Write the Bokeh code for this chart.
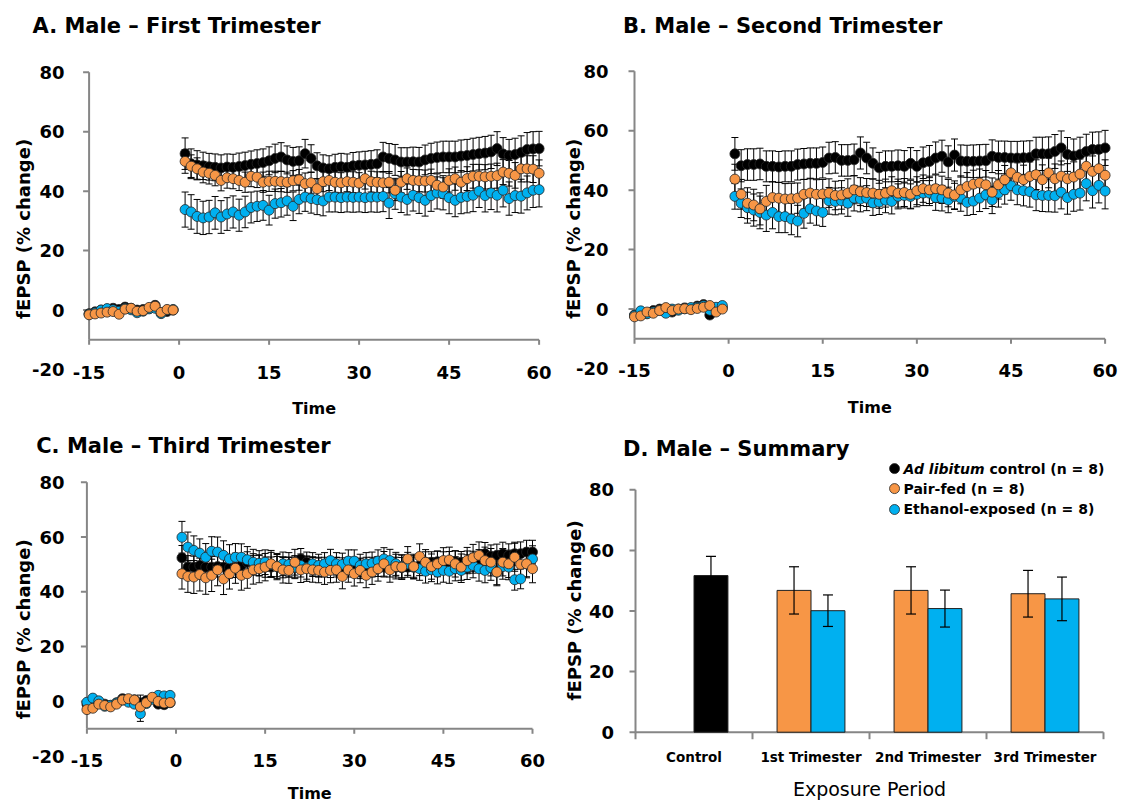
import math
from bokeh.plotting import figure
from bokeh.models import Range1d, Label, ColumnDataSource
from bokeh.layouts import column, row
from bokeh.embed import file_html
from bokeh.resources import INLINE
from bokeh.core.properties import value

# ---------------- data ----------------
time_pre = list(range(-15, 0))
time_post = list(range(1, 61))
x_ticks = [-15, 0, 15, 30, 45, 60]
y_ticks = [0, 20, 40, 60, 80]
y_tick_labels = [-20, 0, 20, 40, 60, 80]

# Panel A - First trimester
A_ctrl_pre = [-1.2, -0.6, 0.0, 0.3, 0.6, 0.2, 1.0, 0.6, 0.0, 0.2, 0.5, 1.6, -1.0, -0.5, 0.0]
A_pf_pre = [-1.6, -1.3, -1.0, -0.7, -0.5, -1.4, 0.3, 0.6, -0.4, -0.2, 0.9, 1.3, -0.8, 0.2, 0.0]
A_eth_pre = [-1.4, -0.9, 0.0, 0.5, 0.1, -0.4, 0.5, 0.1, -0.9, -0.4, 0.4, 0.6, -1.2, 0.0, 0.2]
A_ctrl_post = [52.6, 49.2, 48.8, 48.5, 48.2, 48.0, 47.8, 48.1, 48.0, 48.3,
               48.6, 49.0, 49.3, 49.6, 50.2, 51.0, 51.5, 50.5, 50.0, 50.2,
               52.6, 51.0, 48.5, 47.8, 47.5, 48.0, 48.2, 48.0, 48.5, 48.7,
               48.8, 49.0, 49.2, 51.5, 51.0, 50.5, 49.8, 49.8, 49.9, 49.8,
               50.5, 51.0, 51.3, 51.5, 51.5, 51.5, 51.8, 52.0, 52.3, 52.6,
               52.8, 53.2, 54.3, 52.5, 52.0, 52.3, 53.0, 54.0, 54.2, 54.3]
A_pf_post = [50.0, 48.4, 47.5, 46.4, 46.0, 45.3, 43.6, 44.5, 44.2, 43.6,
             43.0, 45.0, 44.7, 43.0, 43.3, 43.3, 43.2, 43.0, 43.5, 43.8,
             42.5, 42.8, 40.8, 43.2, 43.6, 43.0, 42.8, 43.2, 43.0, 42.7,
             44.2, 43.2, 43.0, 42.8, 43.0, 40.3, 43.0, 44.2, 43.6, 43.5,
             43.4, 43.6, 42.0, 41.4, 43.6, 44.2, 43.0, 44.2, 45.0, 45.0,
             44.8, 45.0, 45.2, 46.4, 46.0, 45.3, 47.5, 47.5, 47.4, 46.0]
A_eth_post = [33.8, 33.0, 31.5, 31.0, 31.3, 32.7, 31.3, 32.3, 33.0, 31.9,
              33.0, 34.5, 34.9, 35.2, 33.6, 35.8, 36.1, 36.7, 34.9, 37.2,
              38.0, 37.5, 37.1, 36.7, 38.0, 38.0, 37.8, 38.0, 37.9, 38.0,
              37.8, 38.0, 38.0, 38.2, 36.0, 39.1, 38.0, 37.2, 38.6, 37.8,
              36.9, 38.5, 39.4, 39.1, 37.8, 36.9, 37.9, 38.2, 38.6, 40.0,
              38.5, 39.4, 38.6, 40.3, 37.5, 38.5, 38.3, 39.4, 40.3, 40.5]
A_ctrl_sem = [5.3, 5.0, 4.8, 4.6, 4.5, 4.5, 4.4, 4.4, 4.4, 4.5,
              4.5, 4.5, 4.6, 4.6, 4.7, 4.8, 4.8, 4.7, 4.7, 4.7,
              4.8, 4.6, 4.4, 4.4, 4.4, 4.4, 4.5, 4.5, 4.5, 4.5,
              4.6, 4.6, 4.7, 4.9, 5.0, 5.2, 4.8, 4.8, 4.9, 4.9,
              5.0, 5.1, 5.2, 5.3, 5.3, 5.3, 5.4, 5.4, 5.5, 5.5,
              5.6, 5.6, 5.7, 5.5, 5.4, 5.5, 5.6, 5.7, 5.8, 5.8]
A_pf_sem = [4.0, 3.8, 3.7, 3.6, 3.6, 3.5, 3.5, 3.5, 3.4, 3.4,
            3.4, 3.5, 3.5, 3.4, 3.4, 3.4, 3.4, 3.4, 3.4, 3.5,
            3.6, 3.5, 3.4, 3.4, 3.4, 3.4, 3.4, 3.4, 3.5, 3.5,
            3.5, 3.5, 3.5, 3.6, 3.6, 3.5, 3.6, 3.6, 3.7, 3.7,
            3.7, 3.8, 3.8, 3.8, 3.9, 3.9, 3.9, 4.0, 4.0, 4.0,
            4.1, 4.1, 4.2, 4.2, 4.3, 4.3, 4.4, 4.4, 4.5, 4.5]
A_eth_sem = [5.9, 5.8, 5.7, 5.6, 5.6, 5.5, 5.5, 5.5, 5.4, 5.4,
             5.3, 5.2, 5.1, 5.0, 5.0, 4.9, 4.8, 4.8, 4.8, 4.8,
             4.8, 4.9, 5.0, 5.0, 5.0, 5.0, 5.0, 5.0, 5.0, 5.0,
             5.0, 5.0, 5.1, 5.1, 5.2, 5.2, 5.2, 5.2, 5.3, 5.3,
             5.3, 5.3, 5.4, 5.4, 5.4, 5.5, 5.5, 5.5, 5.5, 5.5,
             5.5, 5.6, 5.6, 5.6, 5.6, 5.7, 5.7, 5.7, 5.8, 5.8]
A_pre_sem = [0.8, 0.8, 0.7, 0.7, 0.7, 0.8, 0.7, 0.7, 0.8, 0.7, 0.7, 0.8, 0.9, 0.7, 0.6]

# Panel B - Second trimester
B_ctrl_pre = [-2.0, -1.0, -1.5, -0.5, 0.0, -0.5, -1.0, 0.0, 0.4, 0.3, 1.0, 1.5, -2.0, -0.5, 0.5]
B_pf_pre = [-2.6, -2.3, -1.0, -1.4, -0.5, 0.5, -0.5, 0.0, 0.1, -0.2, 0.2, 0.6, 1.2, -1.0, 0.0]
B_eth_pre = [-2.2, -0.6, -1.6, -1.0, -0.4, -1.4, 0.0, -0.4, 0.1, 0.5, 0.6, 1.1, -0.4, 0.6, 1.2]
B_ctrl_post = [52.2, 48.2, 48.6, 48.6, 48.8, 48.0, 48.0, 47.8, 48.0, 48.0,
               48.6, 48.8, 49.0, 49.0, 49.3, 50.8, 51.0, 50.0, 50.0, 50.2,
               52.5, 50.8, 49.0, 47.5, 48.0, 48.0, 48.2, 48.0, 49.0, 48.0,
               49.2, 49.6, 50.8, 51.4, 49.5, 51.8, 49.8, 49.7, 49.7, 49.8,
               49.9, 51.4, 51.0, 51.0, 50.8, 50.8, 50.9, 51.0, 52.2, 52.2,
               52.2, 53.0, 54.2, 52.0, 51.5, 52.0, 53.0, 53.7, 53.7, 54.2]
B_pf_post = [43.7, 38.6, 35.6, 35.0, 33.7, 36.2, 37.5, 37.3, 37.0, 37.1,
             37.3, 38.6, 39.0, 38.6, 38.7, 39.0, 38.2, 38.4, 39.0, 40.1,
             39.5, 39.2, 39.0, 38.6, 39.0, 39.8, 39.0, 39.2, 38.6, 39.8,
             40.5, 40.1, 40.5, 40.1, 39.0, 38.4, 40.1, 41.2, 42.0, 42.4,
             41.8, 39.3, 41.8, 43.5, 45.8, 44.3, 43.5, 44.6, 45.2, 43.5,
             45.8, 43.8, 44.7, 43.8, 44.4, 45.4, 48.0, 46.3, 47.2, 45.0]
B_eth_post = [37.9, 35.6, 34.1, 33.3, 32.5, 31.6, 32.5, 31.1, 31.1, 30.3,
              29.6, 32.2, 33.7, 33.0, 32.5, 36.4, 36.2, 36.4, 35.6, 37.3,
              37.0, 37.3, 35.7, 36.0, 36.6, 36.2, 37.9, 38.2, 37.9, 38.6,
              39.0, 39.0, 37.5, 37.3, 36.7, 37.9, 37.3, 35.9, 36.3, 37.3,
              38.4, 36.7, 39.0, 40.1, 41.5, 40.1, 39.8, 39.5, 38.4, 38.2,
              38.2, 38.1, 39.3, 37.5, 38.6, 39.0, 42.2, 39.8, 41.6, 39.7]
B_ctrl_sem = [5.5, 5.4, 5.3, 5.3, 5.3, 5.2, 5.2, 5.2, 5.2, 5.2,
              5.2, 5.2, 5.2, 5.2, 5.2, 5.3, 5.3, 5.3, 5.3, 5.3,
              5.4, 5.3, 5.2, 5.2, 5.2, 5.2, 5.3, 5.3, 5.3, 5.3,
              5.3, 5.4, 5.4, 5.4, 5.4, 5.4, 5.4, 5.4, 5.5, 5.5,
              5.5, 5.5, 5.5, 5.5, 5.6, 5.6, 5.6, 5.6, 5.6, 5.6,
              5.7, 5.7, 5.7, 5.7, 5.7, 5.8, 5.8, 5.8, 5.9, 5.9]
B_pf_sem = [5.0, 5.0, 5.2, 5.3, 5.4, 5.4, 5.3, 5.3, 5.2, 5.2,
            5.1, 5.0, 5.0, 4.9, 4.9, 4.8, 4.8, 4.8, 4.8, 4.7,
            4.7, 4.7, 4.7, 4.7, 4.7, 4.7, 4.7, 4.7, 4.7, 4.7,
            4.6, 4.6, 4.6, 4.6, 4.6, 4.7, 4.7, 4.7, 4.7, 4.7,
            4.8, 4.8, 4.8, 4.8, 4.9, 4.9, 4.9, 4.9, 5.0, 5.0,
            5.0, 5.0, 5.1, 5.1, 5.1, 5.1, 5.2, 5.2, 5.2, 5.2]
B_eth_sem = [4.3, 4.8, 5.2, 5.4, 5.5, 5.5, 5.5, 5.4, 5.4, 5.3,
             5.3, 5.0, 4.8, 4.8, 4.7, 4.5, 4.5, 4.4, 4.4, 4.3,
             4.3, 4.2, 4.2, 4.2, 4.2, 4.2, 4.2, 4.2, 4.2, 4.2,
             4.2, 4.2, 4.3, 4.3, 4.3, 4.4, 4.4, 4.4, 4.5, 4.5,
             4.6, 4.6, 4.7, 4.8, 4.9, 5.0, 5.1, 5.2, 5.3, 5.4,
             5.5, 5.5, 5.6, 5.6, 5.7, 5.7, 5.8, 5.8, 5.9, 6.0]
B_pre_sem = [0.9, 0.8, 0.8, 0.8, 0.7, 0.8, 0.8, 0.7, 0.7, 0.7, 0.8, 0.8, 1.0, 0.8, 0.7]

# Panel C - Third trimester
C_ctrl_pre = [-1.0, 0.5, -0.5, -1.0, -1.5, -0.5, 1.0, 0.5, 0.6, -0.5, 0.3, 1.0, -1.0, -1.2, -0.5]
C_pf_pre = [-3.0, -2.5, -1.0, -1.5, -2.0, -1.0, 0.5, 1.0, 0.5, -2.0, -0.5, 1.5, 0.0, -0.6, -0.4]
C_eth_pre = [-0.3, 1.2, 0.2, -1.8, -1.4, -0.6, 0.5, -0.3, -1.0, -4.5, -0.8, 0.8, 2.2, 2.0, 2.2]
C_ctrl_post = [52.4, 49.0, 49.0, 49.6, 49.0, 49.0, 49.2, 49.0, 48.8, 49.0,
               49.6, 50.8, 50.2, 49.6, 49.0, 49.0, 49.2, 48.8, 49.0, 49.0,
               52.0, 50.8, 49.2, 49.0, 49.0, 48.8, 49.0, 48.8, 49.0, 49.0,
               48.4, 49.0, 49.0, 49.2, 49.0, 49.0, 49.0, 48.8, 49.0, 49.0,
               49.6, 50.8, 50.8, 51.0, 50.8, 50.8, 51.0, 50.8, 51.0, 50.8,
               51.4, 53.9, 53.0, 53.3, 53.9, 53.3, 53.9, 53.9, 54.5, 54.5]
C_pf_post = [46.6, 45.6, 45.4, 46.3, 45.1, 46.0, 48.0, 44.7, 46.6, 48.6,
             46.0, 46.6, 48.0, 48.4, 49.0, 50.2, 49.2, 48.0, 47.8, 50.8,
             48.0, 48.4, 48.0, 47.8, 47.2, 47.8, 48.0, 45.6, 48.0, 46.6,
             47.8, 46.0, 47.2, 48.4, 50.2, 48.0, 49.2, 49.0, 52.0, 49.2,
             52.9, 50.8, 49.2, 50.2, 51.4, 51.6, 50.2, 49.0, 51.4, 52.4,
             53.3, 51.4, 50.8, 47.2, 50.8, 50.2, 52.6, 50.0, 50.2, 48.4]
C_eth_post = [59.9, 56.3, 55.1, 54.1, 52.6, 54.8, 54.5, 53.3, 52.0, 52.6,
              52.6, 51.7, 50.8, 50.4, 50.8, 50.0, 49.2, 50.2, 50.0, 49.0,
              49.6, 48.8, 50.2, 49.6, 50.2, 51.4, 50.2, 50.0, 51.2, 51.2,
              49.6, 50.2, 50.4, 51.2, 52.0, 51.4, 50.2, 49.2, 50.2, 49.0,
              48.4, 47.5, 48.0, 47.2, 47.8, 47.5, 48.4, 47.8, 49.0, 49.6,
              48.4, 47.8, 48.8, 47.2, 49.2, 49.0, 44.4, 44.7, 50.2, 52.0]
C_ctrl_sem = [4.5, 4.2, 4.0, 4.0, 3.9, 3.9, 3.8, 3.8, 3.8, 3.8,
              3.8, 3.8, 3.7, 3.7, 3.7, 3.7, 3.7, 3.7, 3.7, 3.7,
              3.8, 3.7, 3.6, 3.6, 3.6, 3.6, 3.6, 3.6, 3.6, 3.6,
              3.6, 3.6, 3.6, 3.6, 3.6, 3.6, 3.6, 3.7, 3.7, 3.7,
              3.7, 3.8, 3.8, 3.8, 3.8, 3.9, 3.9, 3.9, 3.9, 4.0,
              4.0, 4.1, 4.1, 4.1, 4.2, 4.2, 4.2, 4.3, 4.3, 4.3]
C_pf_sem = [5.6, 5.8, 6.0, 6.0, 6.0, 5.9, 5.8, 5.7, 5.6, 5.5,
            5.4, 5.3, 5.2, 5.1, 5.0, 4.9, 4.8, 4.8, 4.7, 4.7,
            4.6, 4.6, 4.5, 4.5, 4.5, 4.5, 4.5, 4.5, 4.5, 4.5,
            4.5, 4.5, 4.5, 4.5, 4.5, 4.5, 4.5, 4.5, 4.5, 4.5,
            4.6, 4.6, 4.6, 4.7, 4.7, 4.7, 4.8, 4.8, 4.8, 4.9,
            4.9, 4.9, 5.0, 5.0, 5.0, 5.0, 5.1, 5.1, 5.1, 5.1]
C_eth_sem = [5.8, 5.5, 5.3, 5.2, 5.0, 5.3, 5.5, 5.3, 5.2, 5.0,
             4.9, 4.8, 4.7, 4.6, 4.5, 4.4, 4.4, 4.3, 4.3, 4.2,
             4.2, 4.2, 4.1, 4.1, 4.1, 4.1, 4.1, 4.1, 4.1, 4.1,
             4.1, 4.1, 4.1, 4.1, 4.1, 4.1, 4.2, 4.2, 4.2, 4.2,
             4.2, 4.3, 4.3, 4.3, 4.3, 4.4, 4.4, 4.4, 4.5, 4.5,
             4.5, 4.5, 4.6, 4.6, 4.6, 4.6, 3.8, 3.6, 4.7, 4.8]
C_pre_sem = [0.9, 0.8, 0.8, 0.8, 0.8, 0.8, 0.8, 0.8, 0.9, 2.8, 0.9, 0.8, 0.8, 0.8, 0.8]

# Panel D - Summary
summary_groups = ["Control", "1st Trimester", "2nd Trimester", "3rd Trimester"]
summary_ctrl_mean = [51.7]
summary_ctrl_sem = [6.3]
summary_pf_mean = [46.8, 46.8, 45.7]
summary_pf_sem = [7.8, 7.8, 7.7]
summary_eth_mean = [40.1, 40.8, 44.0]
summary_eth_sem = [5.2, 6.1, 7.2]
legend_names = ["Ad libitum", "Pair-fed (n = 8)", "Ethanol-exposed (n = 8)"]
legend_ctrl_suffix = "control (n = 8)"

# ---------------- styling ----------------
FONT = "DejaVu Sans"
GRAY = "#868686"
COL = {"ctrl": "#000000", "pf": "#F79646", "eth": "#00B0F0"}
EDGE = "#262626"


def make_fig(w, h, xa, xb, pxa, pxb, ya, yb, pya, pyb):
    """Frame fills the whole canvas; ranges chosen so that data values
    xa/xb land at pixel columns pxa/pxb and ya/yb at pixel rows pya/pyb."""
    sx = (pxb - pxa) / (xb - xa)
    sy = (pya - pyb) / (yb - ya)
    x_range = Range1d(xa - pxa / sx, xa + (w - pxa) / sx)
    y_range = Range1d(ya - (h - pya) / sy, ya + pya / sy)
    p = figure(width=w, height=h, x_range=x_range, y_range=y_range,
               output_backend="svg", toolbar_location=None,
               x_axis_location=None, y_axis_location=None,
               min_border=0, min_border_left=0, min_border_right=0,
               min_border_top=0, min_border_bottom=0)
    p.outline_line_color = None
    p.xgrid.visible = False
    p.ygrid.visible = False
    p.background_fill_color = "white"
    p.border_fill_color = "white"
    return p


def add_label(p, text, x, y, xo=0, yo=0, size="18px", style="bold",
              align="left", baseline="middle", angle=0.0):
    p.add_layout(Label(x=x, y=y, x_offset=xo, y_offset=yo, text=text,
                       text_font=FONT, text_font_size=size,
                       text_font_style=style, text_align=align,
                       text_baseline=baseline, angle=angle,
                       text_color="black"))


def tick_text(p, xs, ys, labels, xo, yo, align, size="18px"):
    p.text(x=xs, y=ys, text=labels, x_offset=xo, y_offset=yo,
           text_font=value(FONT), text_font_size=value(size),
           text_font_style="bold", text_align=align,
           text_baseline="middle", text_color="black")


def time_panel(title, series, w, h, px, py, g):
    p = make_fig(w, h, -15, 60, px[0], px[1], -10, 80, py[0], py[1])
    # axes (drawn from the tick arrays through the plot's scales)
    p.segment(x0=[-15], y0=[-10], x1=[-15], y1=[80], line_color=GRAY, line_width=2)
    p.segment(x0=[-15], y0=[-10], x1=[60], y1=[-10], line_color=GRAY, line_width=2)
    p.ray(x=[-15] * len(y_ticks), y=y_ticks, length=6, length_units="screen",
          angle=math.pi, line_color=GRAY, line_width=2)
    p.ray(x=x_ticks, y=[-10] * len(x_ticks), length=5, length_units="screen",
          angle=-math.pi / 2, line_color=GRAY, line_width=2)
    tick_text(p, [-15] * len(y_tick_labels), y_tick_labels,
              [str(v) for v in y_tick_labels], g["ytick_xo"], 0, "right")
    tick_text(p, x_ticks, [-10] * len(x_ticks), [str(v) for v in x_ticks],
              0, g["xtick_yo"], "center")

    t_all = time_pre + time_post
    sources = {}
    for key in ["ctrl", "eth", "pf"]:
        pre, post, pre_sem, post_sem = series[key]
        y = pre + post
        e = pre_sem + post_sem
        sources[key] = ColumnDataSource(dict(
            t=t_all, y=y,
            lo=[a - b for a, b in zip(y, e)],
            hi=[a + b for a, b in zip(y, e)]))
    for key in ["ctrl", "eth", "pf"]:
        src = sources[key]
        p.segment(x0="t", y0="lo", x1="t", y1="hi", source=src,
                  line_color="black", line_width=1)
        p.scatter("t", "hi", source=src, marker="dash", size=7,
                  line_color="black", line_width=1)
        p.scatter("t", "lo", source=src, marker="dash", size=7,
                  line_color="black", line_width=1)
    for key in ["ctrl", "eth", "pf"]:
        p.scatter("t", "y", source=sources[key], size=10,
                  fill_color=COL[key], line_color=EDGE, line_width=0.8)

    add_label(p, title, -15, 80, g["title_xo"], g["title_yo"], size="21px")
    add_label(p, "fEPSP (% change)", -15, g["ylab_y"], g["ylab_xo"], 0,
              size="18px", align="center", angle=math.pi / 2)
    add_label(p, "Time", 22.5, -10, 0, g["time_yo"], size="16px",
              align="center")
    return p


pA = time_panel("A. Male \u2013 First Trimester",
                {"ctrl": (A_ctrl_pre, A_ctrl_post, A_pre_sem, A_ctrl_sem),
                 "pf": (A_pf_pre, A_pf_post, A_pre_sem, A_pf_sem),
                 "eth": (A_eth_pre, A_eth_post, A_pre_sem, A_eth_sem)},
                560, 418, (88.6, 538.6), (339.3, 71.7),
                dict(title_xo=-56.6, title_yo=46.7, ylab_y=27.3, ylab_xo=-65.6,
                     time_yo=-68.7, ytick_xo=-24.6, xtick_yo=32.7))
pB = time_panel("B. Male \u2013 Second Trimester",
                {"ctrl": (B_ctrl_pre, B_ctrl_post, B_pre_sem, B_ctrl_sem),
                 "pf": (B_pf_pre, B_pf_post, B_pre_sem, B_pf_sem),
                 "eth": (B_eth_pre, B_eth_post, B_pre_sem, B_eth_sem)},
                561, 418, (74.0, 544.6), (338.3, 70.7),
                dict(title_xo=-11.5, title_yo=45.7, ylab_y=27.0, ylab_xo=-61.5,
                     time_yo=-68.7, ytick_xo=-26.0, xtick_yo=32.0))
pC = time_panel("C. Male \u2013 Third Trimester",
                {"ctrl": (C_ctrl_pre, C_ctrl_post, C_pre_sem, C_ctrl_sem),
                 "pf": (C_pf_pre, C_pf_post, C_pre_sem, C_pf_sem),
                 "eth": (C_eth_pre, C_eth_post, C_pre_sem, C_eth_sem)},
                560, 386, (86.4, 532.0), (310.3, 63.7),
                dict(title_xo=-50.7, title_yo=36.7, ylab_y=26.3, ylab_xo=-63.4,
                     time_yo=-64.7, ytick_xo=-22.4, xtick_yo=31.7))

# ---------------- Panel D ----------------
pD = make_fig(561, 386, 0, 4, 75.0, 543.0, 0, 80, 313.7, 71.3)
n_groups = len(summary_groups)
centers = [i + 0.5 for i in range(n_groups)]
bounds = list(range(n_groups + 1))
pD.segment(x0=[0], y0=[0], x1=[0], y1=[80], line_color=GRAY, line_width=2)
pD.segment(x0=[0], y0=[0], x1=[n_groups], y1=[0], line_color=GRAY, line_width=2)
pD.ray(x=[0] * len(y_ticks), y=y_ticks, length=6, length_units="screen",
       angle=math.pi, line_color=GRAY, line_width=2)
pD.ray(x=bounds, y=[0] * len(bounds), length=7, length_units="screen",
       angle=-math.pi / 2, line_color=GRAY, line_width=2)
tick_text(pD, [0] * len(y_ticks), y_ticks, [str(v) for v in y_ticks],
          -21.4, 0, "right")
tick_text(pD, centers, [0] * n_groups, summary_groups, 0, 25, "center",
          size="13.5px")

bw = 0.29
off = bw / 2
ctrl_x = [centers[0] + off]
pf_x = [c - off for c in centers[1:]]
eth_x = [c + off for c in centers[1:]]
for xs, m, s, col in [(ctrl_x, summary_ctrl_mean, summary_ctrl_sem, COL["ctrl"]),
                      (pf_x, summary_pf_mean, summary_pf_sem, COL["pf"]),
                      (eth_x, summary_eth_mean, summary_eth_sem, COL["eth"])]:
    src = ColumnDataSource(dict(x=xs, m=m,
                                lo=[a - b for a, b in zip(m, s)],
                                hi=[a + b for a, b in zip(m, s)]))
    pD.vbar(x="x", top="m", bottom=0, width=bw, source=src,
            fill_color=col, line_color="#1f1f1f", line_width=1)
    pD.segment(x0="x", y0="lo", x1="x", y1="hi", source=src,
               line_color="black", line_width=1.2)
    pD.scatter("x", "hi", source=src, marker="dash", size=10,
               line_color="black", line_width=1.2)
    pD.scatter("x", "lo", source=src, marker="dash", size=10,
               line_color="black", line_width=1.2)

# legend (manual, to allow the italic "Ad libitum")
leg_x = 2.214
leg_y = [87.0, 80.4, 73.5]
pD.scatter([leg_x] * 3, leg_y, size=10,
           fill_color=[COL["ctrl"], COL["pf"], COL["eth"]],
           line_color=EDGE, line_width=0.8)
add_label(pD, legend_names[0], leg_x, leg_y[0], 9, 0, size="14px",
          style="bold italic")
add_label(pD, legend_ctrl_suffix, leg_x, leg_y[0], 95, 0, size="14px")
add_label(pD, legend_names[1], leg_x, leg_y[1], 9, 0, size="14px")
add_label(pD, legend_names[2], leg_x, leg_y[2], 9, 0, size="14px")

add_label(pD, "D. Male \u2013 Summary", 0, 80, -12.5, 41.3, size="21px")
add_label(pD, "fEPSP (% change)", 0, 40.2, -61, 0, size="18px",
          align="center", angle=math.pi / 2)
add_label(pD, "Exposure Period", 2.0, 0, 0, -56.3, size="19px",
          style="normal", align="center")

layout = column(row(pA, pB), row(pC, pD))
open("out.html", "w").write(file_html(layout, INLINE))
